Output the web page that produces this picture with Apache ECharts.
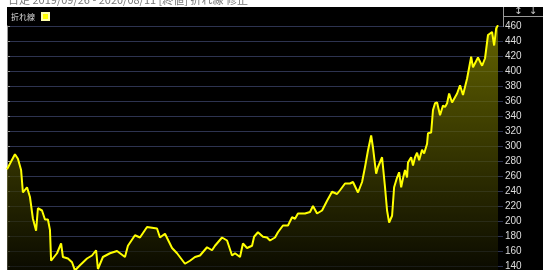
<!DOCTYPE html>
<html><head><meta charset="utf-8">
<script src="https://cdn.jsdelivr.net/npm/echarts@6/dist/echarts.min.js"></script>
<style>html,body{margin:0;padding:0;background:#fff}#c{width:550px;height:270px}</style>
</head><body><div id="c"></div>
<script>
// trading-day index (estimated) and closing values
const days = [0,3.5,4.8,6.2,7.0,8.8,10.1,11.4,12.8,13.6,15.4,16.7,18.0,18.9,19.4,20.2,22.0,23.8,24.6,26.8,28.6,29.9,32.1,35.2,37.4,39.2,40.0,42.2,45.3,48.4,51.9,53.2,56.3,58.5,61.6,63.8,66.0,67.3,69.5,72.6,74.8,78.3,80.5,82.7,84.9,88.0,90.2,91.5,94.6,96.8,99.0,100.3,102.5,103.8,105.6,107.8,108.7,110.4,112.6,114.4,115.7,117.9,119.2,121.4,123.6,125.4,126.7,128.0,131.1,133.3,134.6,136.4,138.6,140.8,143.0,145.2,146.5,148.7,150.9,152.2,154.4,156.2,157.5,158.8,160.2,161.0,162.4,163.2,165.0,166.3,167.2,168.1,169.4,170.3,171.6,172.5,173.4,174.2,175.1,176.0,176.4,177.8,178.6,179.5,180.4,181.3,182.6,183.5,184.8,185.2,186.6,187.4,188.3,189.2,190.5,191.8,192.7,193.6,194.5,195.8,198.0,199.3,200.6,202.4,204.2,205.0,207.2,209.0,210.3,211.6,213.4,214.3,215.2,216.0];
const prices = [269,289,283,268,238,245,232,203,187,217,214,202,202,188,147,146,157,170,152,150,145,134,141,150,154,161,136,152,157,160,152,167,181,178,192,191,190,178,183,164,157,143,147,152,154,165,161,167,178,174,154,157,152,170,164,167,179,185,179,178,174,178,185,194,194,205,203,210,210,212,220,210,214,227,239,236,241,250,250,252,238,252,272,294,314,298,263,272,285,245,214,198,207,245,258,265,245,257,268,258,278,285,274,285,291,281,295,290,303,317,318,348,357,358,341,354,352,357,370,358,370,381,368,390,419,405,418,407,417,448,452,434,457,461];
const seriesName = '折れ線';
const titleText = '日足 2019/09/26 - 2020/08/11 [終値] 折れ線 修正';

const chart = echarts.init(document.getElementById('c'));
chart.setOption({
  backgroundColor: '#ffffff',
  animation: false,
  legend: {data: [seriesName], left: 6, top: 7, align: 'right', itemWidth: 7, itemHeight: 7, itemGap: 4,
    icon: 'rect', textStyle: {color: '#ddd', fontSize: 8, fontFamily: 'Noto Sans CJK JP', padding: [0, 2, 0, 0]}},
  graphic: {elements: [
    {type: 'rect', left: 7, top: 7, z: -100, shape: {width: 536, height: 263}, style: {fill: '#000'}},
    {type: 'text', z: -50, x: 8, y: -6, style: {text: titleText, fill: '#777', fontSize: 11, fontFamily: 'Noto Sans CJK JP'}},
    {type: 'rect', z: -40, x: 7, y: 7, shape: {width: 536, height: 10}, style: {fill: '#000'}},
    {type: 'line', z: 10, shape: {x1: 503.5, y1: 7, x2: 503.5, y2: 27}, style: {stroke: '#999', lineWidth: 1}},
    {type: 'line', z: 10, shape: {x1: 503, y1: 16.5, x2: 543, y2: 16.5}, style: {stroke: '#999', lineWidth: 1}},
    {type: 'text', z: 10, x: 514, y: 6, style: {text: '↕  ↓', fill: '#ccc', fontSize: 10, fontFamily: 'DejaVu Sans'}}
  ]},
  grid: {left: 7, right: 47, top: 26, height: 255, containLabel: false, outerBoundsMode: 'none'},
  xAxis: {type: 'value', min: 0, max: 218.2, show: false, splitLine: {show: false}},
  yAxis: {type: 'value', position: 'right', min: 120, max: 460, interval: 20,
    axisLine: {show: true, lineStyle: {color: '#999'}},
    axisTick: {show: true, length: 3, lineStyle: {color: '#999'}},
    axisLabel: {color: '#ddd', fontSize: 10, margin: 2, fontFamily: 'Liberation Sans'},
    splitLine: {show: true, lineStyle: {color: '#2d3350', width: 1}}},
  series: [{
    name: seriesName, type: 'line', showSymbol: false, symbol: 'none',
    data: days.map((d, i) => [d, prices[i]]),
    itemStyle: {color: '#ffff00', borderColor: '#ffffaa', borderWidth: 1},
    lineStyle: {color: '#ffff00', width: 2},
    areaStyle: {color: new echarts.graphic.LinearGradient(0, 0, 0, 1, [
      {offset: 0, color: '#8c8c00'}, {offset: 1, color: '#0a0a00'}])}
  }]
});
</script></body></html>
